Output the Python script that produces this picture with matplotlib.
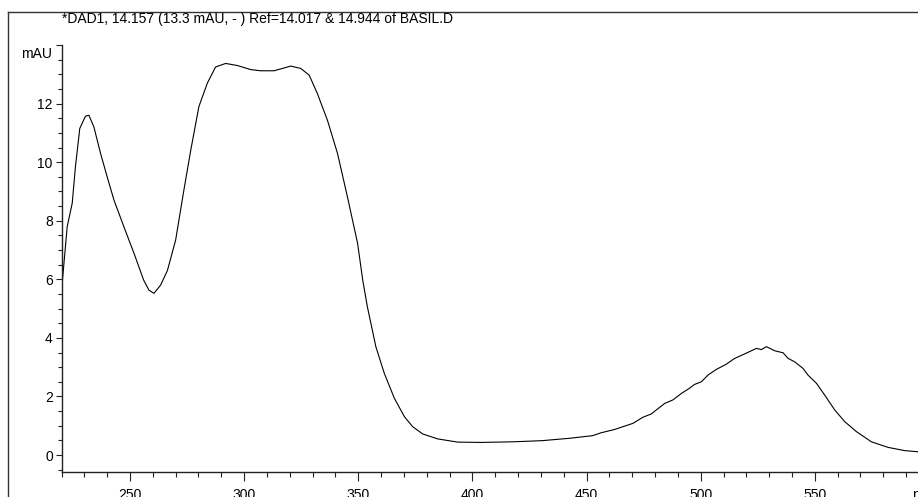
import matplotlib
matplotlib.use("Agg")
import matplotlib.pyplot as plt
from matplotlib.lines import Line2D
from matplotlib.ticker import MultipleLocator, FixedLocator

# DAD spectrum
wavelength = [220.0, 222.5, 224.7, 226.1, 228.0, 230.5, 232.0, 234.2, 237.1, 240.0,
              243.0, 247.3, 251.7, 256.0, 258.3, 260.5, 263.4, 266.4, 270.0, 273.6,
              276.6, 280.2, 283.9, 287.5, 291.9, 297.0, 302.9, 307.3, 313.1, 316.8,
              320.4, 324.8, 328.5, 332.1, 336.5, 340.9, 345.3, 349.7, 352.0, 354.0,
              357.7, 361.4, 365.8, 370.2, 373.8, 378.2, 384.8, 393.6, 403.8, 417.5,
              430.5, 442.4, 452.6, 456.4, 462.2, 470.3, 474.7, 478.3, 484.2, 487.8,
              491.5, 495.1, 497.3, 500.3, 503.2, 506.8, 511.2, 514.9, 519.2, 524.4,
              526.6, 528.8, 532.4, 536.1, 538.3, 541.2, 544.8, 547.0, 550.7, 554.3,
              558.7, 563.1, 568.2, 574.8, 582.1, 589.4, 595.3]
absorbance = [5.6, 7.8, 8.6, 9.84, 11.15, 11.57, 11.6, 11.2, 10.3, 9.5,
              8.7, 7.8, 6.9, 5.97, 5.63, 5.52, 5.8, 6.3, 7.34, 9.04,
              10.4, 11.9, 12.7, 13.25, 13.37, 13.3, 13.16, 13.12, 13.12, 13.2,
              13.28, 13.2, 12.97, 12.34, 11.43, 10.3, 8.8, 7.23, 5.95, 5.06,
              3.7, 2.79, 1.94, 1.31, 0.97, 0.72, 0.55, 0.44, 0.43, 0.45,
              0.49, 0.57, 0.66, 0.76, 0.87, 1.08, 1.29, 1.4, 1.76, 1.88,
              2.1, 2.28, 2.41, 2.5, 2.73, 2.92, 3.1, 3.3, 3.45, 3.64,
              3.6, 3.7, 3.56, 3.49, 3.3, 3.18, 2.96, 2.73, 2.45, 2.05,
              1.54, 1.14, 0.8, 0.45, 0.26, 0.15, 0.11]

y_ticks = [0, 2, 4, 6, 8, 10, 12, 14]
y_labels = ["0", "2", "4", "6", "8", "10", "12", ""]
title = "*DAD1, 14.157 (13.3 mAU, - ) Ref=14.017 & 14.944 of BASIL.D"

plt.rcParams['font.family'] = ['Liberation Sans', 'DejaVu Sans']
plt.rcParams['font.size'] = 10

fig = plt.figure(figsize=(9.18, 4.97), dpi=100)
ax = fig.add_axes([61.5 / 918, 25 / 497, 1 - 61.5 / 918, (472 - 45) / 497])

ax.plot(wavelength, absorbance, color="black", lw=0.8)

ax.set_xlim(220, 595.2)
ax.set_ylim(-0.58, 14.0)

ax.xaxis.set_major_locator(MultipleLocator(50))
ax.xaxis.set_minor_locator(MultipleLocator(10))
ax.yaxis.set_major_locator(FixedLocator(y_ticks))
ax.set_yticklabels(y_labels)
ax.yaxis.set_minor_locator(MultipleLocator(0.5))

for side in ["top", "right"]:
    ax.spines[side].set_visible(False)
for side in ["left", "bottom"]:
    ax.spines[side].set_linewidth(1.0)
    ax.spines[side].set_color("#222222")

ax.tick_params(axis="x", which="major", direction="out", length=6.5, width=0.8, pad=4.8, colors="#222222")
ax.tick_params(axis="x", which="minor", direction="out", length=3.6, width=0.8, colors="#222222")
ax.tick_params(axis="y", which="major", direction="out", length=4.3, width=0.8, pad=2, colors="#222222")
ax.tick_params(axis="y", which="minor", direction="out", length=2.9, width=0.8, colors="#222222")
ax.tick_params(labelcolor="black", labelsize=10)

# unit labels as drawn by ChemStation
ax.annotate("mAU", xy=(0, 14), xycoords=ax.get_yaxis_transform(),
            xytext=(-9, -9), textcoords="offset pixels", ha="right", va="center")
ax.annotate("nm", xy=(592.8, 0), xycoords=("data", "axes fraction"),
            xytext=(0, -16), textcoords="offset pixels", ha="left", va="top",
            annotation_clip=False)

# outer frame and header
fig.add_artist(Line2D([8 / 918, 8 / 918], [0, 1 - 12 / 497], transform=fig.transFigure,
                      color="#333333", lw=1.0))
fig.add_artist(Line2D([8 / 918, 1], [1 - 12 / 497, 1 - 12 / 497], transform=fig.transFigure,
                      color="#333333", lw=1.0))
fig.text(62 / 918, 1 - 19 / 497, title, ha="left", va="center", fontsize=10)

fig.savefig("out.png", dpi=100)
